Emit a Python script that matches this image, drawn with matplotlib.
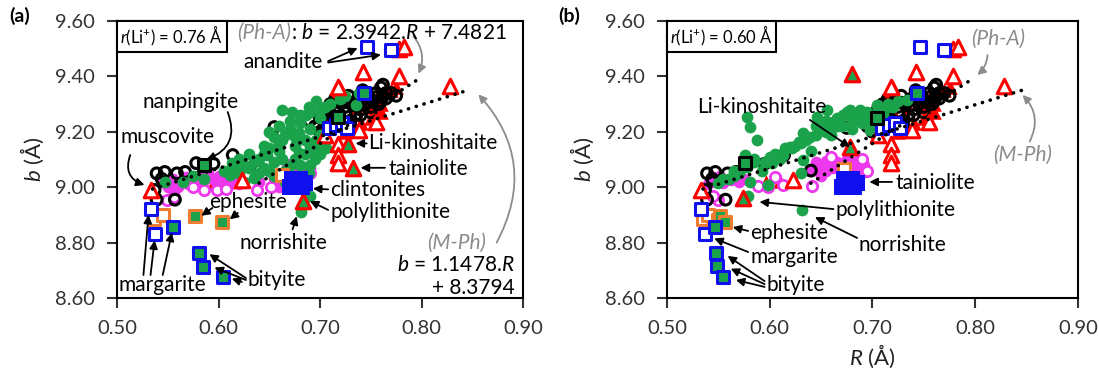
import numpy as np
import matplotlib.pyplot as plt
from matplotlib.offsetbox import AnchoredText

plt.rcParams['font.family'] = ['Lato', 'DejaVu Sans']
plt.rcParams['mathtext.fontset'] = 'custom'
plt.rcParams['mathtext.rm'] = 'Lato'
plt.rcParams['mathtext.it'] = 'Lato:italic'

# regression lines (from the equations printed on the chart)
phA_slope, phA_icpt = 2.3942, 7.4821
mph_slope, mph_icpt = 1.1478, 8.3794
phA_R = np.array([0.64, 0.795])
mph_R = np.array([0.535, 0.845])

# ---- series that sit at the same place in both panels ----
blk_R = [0.537, 0.539, 0.557, 0.539, 0.547, 0.559, 0.567, 0.544, 0.578, 0.595, 0.614, 0.640, 0.655, 0.675,
         0.690, 0.695, 0.700, 0.700, 0.705, 0.708, 0.710, 0.712, 0.715, 0.718,
         0.720, 0.722, 0.725, 0.728, 0.730, 0.732, 0.735, 0.738, 0.740, 0.742,
         0.745, 0.748, 0.750, 0.752, 0.755, 0.758, 0.760, 0.762, 0.762, 0.765, 0.770, 0.775,
         0.705, 0.715, 0.725, 0.735, 0.745, 0.755, 0.765, 0.730, 0.720, 0.740, 0.750, 0.760, 0.710, 0.728]
blk_b = [8.990, 8.955, 8.955, 9.050, 9.055, 9.050, 9.055, 9.030, 9.087, 9.085, 9.116, 9.060, 9.217, 9.214,
         9.240, 9.220, 9.250, 9.200, 9.280, 9.215, 9.300, 9.260, 9.320, 9.290,
         9.240, 9.310, 9.270, 9.330, 9.220, 9.300, 9.260, 9.320, 9.280, 9.350,
         9.300, 9.330, 9.270, 9.310, 9.340, 9.300, 9.360, 9.330, 9.370, 9.320, 9.340, 9.330,
         9.240, 9.270, 9.290, 9.310, 9.320, 9.325, 9.340, 9.240, 9.220, 9.260, 9.290, 9.310, 9.235, 9.305]

redfill_R = [0.700, 0.710, 0.720, 0.730, 0.735, 0.745, 0.750, 0.755, 0.760, 0.765, 0.770,
             0.775, 0.725, 0.740, 0.715, 0.720, 0.705, 0.750, 0.760, 0.596, 0.610]
redfill_b = [9.220, 9.250, 9.270, 9.250, 9.290, 9.310, 9.290, 9.320, 9.300, 9.345, 9.350,
             9.360, 9.200, 9.230, 9.340, 9.360, 9.190, 9.250, 9.270, 9.020, 9.022]

redopen_R = [0.533, 0.623, 0.718, 0.742, 0.778, 0.828, 0.778, 0.783, 0.718, 0.718, 0.718, 0.705, 0.738, 0.755]
redopen_b = [8.990, 9.026, 9.360, 9.416, 9.400, 9.365, 9.500, 9.505, 9.156, 9.116, 9.087, 9.190, 9.205, 9.235]

blueopen_R = [0.746, 0.770, 0.533, 0.537, 0.709, 0.716, 0.722, 0.727]
blueopen_b = [9.506, 9.495, 8.921, 8.830, 9.214, 9.225, 9.230, 9.214]

bluefill_R = [0.670, 0.676, 0.682, 0.672, 0.680, 0.685]
bluefill_b = [9.000, 9.020, 9.000, 9.030, 9.030, 9.015]

# ---- panel (a): r(Li+) = 0.76 A ----
a_grn_R = [0.547, 0.565, 0.575, 0.586, 0.613, 0.611, 0.635, 0.648, 0.681,
           0.663, 0.672, 0.689, 0.696, 0.738, 0.735, 0.663, 0.679, 0.696, 0.706,
           0.679, 0.663, 0.650, 0.640, 0.670, 0.689, 0.686, 0.716,
           0.620, 0.630, 0.645, 0.655, 0.660, 0.670, 0.680, 0.690, 0.700, 0.675,
           0.685, 0.660, 0.655, 0.670, 0.680, 0.695, 0.650, 0.640, 0.630, 0.620,
           0.665, 0.685, 0.690, 0.700, 0.705, 0.710, 0.625, 0.725,
           0.605, 0.615, 0.625, 0.635, 0.645, 0.650, 0.660, 0.665, 0.670, 0.675,
           0.685, 0.690, 0.695, 0.700, 0.680, 0.690, 0.700, 0.710, 0.720, 0.675,
           0.665, 0.655, 0.645, 0.690, 0.700]
a_grn_b = [9.020, 9.020, 9.040, 9.030, 9.087, 9.044, 9.033, 9.116, 8.910,
           9.280, 9.270, 9.290, 9.310, 9.340, 9.297, 9.170, 9.196, 9.170, 9.140,
           9.124, 9.100, 9.060, 9.050, 9.075, 9.050, 9.260, 9.235,
           9.100, 9.120, 9.150, 9.180, 9.220, 9.240, 9.230, 9.210, 9.190, 9.150,
           9.120, 9.130, 9.090, 9.040, 9.080, 9.100, 9.200, 9.100, 9.070, 9.050,
           9.020, 9.000, 8.970, 9.250, 9.290, 9.210, 9.020, 9.330,
           9.060, 9.070, 9.080, 9.090, 9.120, 9.140, 9.160, 9.190, 9.210, 9.180,
           9.170, 9.150, 9.130, 9.160, 9.260, 9.270, 9.280, 9.300, 9.320, 9.100,
           9.060, 9.040, 9.070, 9.080, 9.120]
a_magfill_R = [0.545, 0.555, 0.565, 0.575, 0.585, 0.595, 0.605, 0.615, 0.560, 0.570, 0.580, 0.590,
               0.600, 0.620, 0.640, 0.655, 0.665, 0.670, 0.660, 0.675, 0.680, 0.650, 0.550, 0.690,
               0.548, 0.558, 0.568, 0.578, 0.588, 0.598, 0.608, 0.555, 0.612]
a_magfill_b = [9.020, 9.030, 9.020, 9.030, 9.020, 9.030, 9.020, 9.030, 9.000, 9.010, 9.040, 9.050,
               9.040, 9.010, 9.020, 9.030, 9.050, 9.060, 9.000, 9.070, 9.060, 9.060, 9.000, 9.070,
               9.010, 9.010, 9.035, 9.020, 9.035, 9.010, 9.035, 8.990, 9.010]
a_magopen_R = [0.549, 0.556, 0.586, 0.598, 0.607, 0.638, 0.652, 0.668, 0.690, 0.575]
a_magopen_b = [8.954, 8.965, 8.990, 8.990, 8.995, 8.990, 9.000, 9.080, 9.050, 9.000]
a_redgrn_R = [0.728, 0.732, 0.683]
a_redgrn_b = [9.156, 9.070, 8.950]
a_bluegrn_R = [0.555, 0.581, 0.585, 0.604, 0.743]
a_bluegrn_b = [8.856, 8.763, 8.712, 8.676, 9.340]
a_orgopen_R = [0.536, 0.545, 0.663]
a_orgopen_b = [8.885, 8.900, 9.045]
a_orggrn_R = [0.577, 0.603]
a_orggrn_b = [8.896, 8.875]
a_blkgrn_R = [0.586, 0.718]
a_blkgrn_b = [9.080, 9.253]

# ---- panel (b): r(Li+) = 0.60 A ----
b_grn_R = [0.550, 0.576, 0.578, 0.581, 0.579, 0.592, 0.602, 0.613, 0.622, 0.628, 0.634, 0.598, 0.631,
           0.578, 0.581, 0.588, 0.600, 0.620, 0.632, 0.646, 0.656,
           0.688, 0.704, 0.720, 0.734, 0.698, 0.662, 0.649, 0.639, 0.630, 0.671, 0.678, 0.695, 0.632, 0.630,
           0.565, 0.570, 0.585, 0.610, 0.640, 0.655, 0.665, 0.680, 0.690, 0.710, 0.715, 0.560,
           0.555, 0.565, 0.575, 0.585, 0.595, 0.605, 0.615, 0.625, 0.635, 0.645, 0.655, 0.665,
           0.675, 0.685, 0.695, 0.705, 0.715, 0.725, 0.660, 0.670, 0.680, 0.690, 0.645, 0.655]
b_grn_b = [9.015, 9.116, 9.073, 9.020, 8.970, 9.060, 9.087, 9.116, 9.140, 9.163, 9.180, 9.008, 8.918,
           9.253, 9.217, 9.170, 9.110, 9.145, 9.196, 9.253, 9.280,
           9.280, 9.297, 9.290, 9.315, 9.207, 9.236, 9.207, 9.180, 9.160, 9.260, 9.280, 9.245, 9.098, 9.050,
           9.040, 9.050, 9.090, 9.100, 9.130, 9.200, 9.220, 9.240, 9.250, 9.260, 9.300, 9.030,
           9.030, 9.060, 9.080, 9.100, 9.090, 9.120, 9.140, 9.150, 9.170, 9.190, 9.210, 9.250,
           9.270, 9.260, 9.270, 9.270, 9.290, 9.310, 9.190, 9.220, 9.210, 9.230, 9.220, 9.240]
b_magfill_R = [0.540, 0.547, 0.555, 0.562, 0.570, 0.545, 0.552, 0.560, 0.568, 0.575,
               0.640, 0.648, 0.655, 0.662, 0.670, 0.678, 0.685, 0.692,
               0.645, 0.655, 0.665, 0.675, 0.685, 0.650, 0.670, 0.690]
b_magfill_b = [9.010, 9.020, 9.015, 9.025, 9.020, 9.035, 9.040, 9.030, 9.040, 9.030,
               9.060, 9.070, 9.060, 9.070, 9.065, 9.075, 9.070, 9.080,
               9.090, 9.095, 9.090, 9.100, 9.095, 9.040, 9.045, 9.050]
b_magopen_R = [0.550, 0.545, 0.589, 0.598, 0.613, 0.641, 0.605, 0.660, 0.690, 0.695]
b_magopen_b = [8.954, 8.970, 9.004, 9.000, 9.008, 9.004, 9.036, 9.110, 9.100, 9.060]
b_redgrn_R = [0.678, 0.574, 0.680]
b_redgrn_b = [9.145, 8.960, 9.410]
b_bluegrn_R = [0.547, 0.548, 0.549, 0.555, 0.743]
b_bluegrn_b = [8.856, 8.763, 8.715, 8.676, 9.340]
b_orgopen_R = [0.535, 0.545, 0.540, 0.550, 0.672]
b_orgopen_b = [8.885, 8.895, 8.900, 8.880, 9.065]
b_orggrn_R = [0.552, 0.556]
b_orggrn_b = [8.896, 8.875]
b_blkgrn_R = [0.576, 0.704]
b_blkgrn_b = [9.087, 9.250]

RED = '#ff0000'
GRN = '#1aa34a'
MAG = '#ee38ee'
BLU = '#1010ee'
ORG = '#ee7d31'


def scatter_panel(ax, grn, magf, mago, redg, blug, orgo, orgg, blkg):
    ax.scatter(redfill_R, redfill_b, marker='^', s=110, c=RED, lw=0, zorder=2)
    ax.scatter(*magf, marker='o', s=70, c=MAG, lw=0, zorder=2)
    ax.scatter(*mago, marker='o', s=55, facecolors='white', edgecolors=MAG, lw=2.0, zorder=2)
    ax.scatter(blk_R, blk_b, marker='o', s=60, facecolors='none', edgecolors='k', lw=2.2, zorder=3)
    ax.scatter(*grn, marker='o', s=72, c=GRN, lw=0, zorder=3)
    ax.scatter(redopen_R, redopen_b, marker='^', s=110, facecolors='white', edgecolors=RED, lw=2.2, zorder=4)
    ax.scatter(*redg, marker='^', s=110, facecolors=GRN, edgecolors=RED, lw=2.2, zorder=4)
    ax.scatter(*orgo, marker='s', s=65, facecolors='white', edgecolors=ORG, lw=2.2, zorder=4)
    ax.scatter(*orgg, marker='s', s=65, facecolors=GRN, edgecolors=ORG, lw=2.2, zorder=4)
    ax.scatter(blueopen_R, blueopen_b, marker='s', s=65, facecolors='white', edgecolors=BLU, lw=2.2, zorder=5)
    ax.scatter(*blug, marker='s', s=65, facecolors=GRN, edgecolors=BLU, lw=2.2, zorder=5)
    ax.scatter(bluefill_R, bluefill_b, marker='s', s=130, c=BLU, lw=0, zorder=5)
    ax.scatter(*blkg, marker='s', s=65, facecolors=GRN, edgecolors='k', lw=2.2, zorder=5)
    for R, m, c0 in [(phA_R, phA_slope, phA_icpt), (mph_R, mph_slope, mph_icpt)]:
        ax.plot(R, m * R + c0, color='k', lw=2.6, ls=(0, (0.05, 2.2)),
                dash_capstyle='round', zorder=6)


def arrow(ax, start, end, color='k', rad=0.0, lw=1.3):
    ax.annotate('', xy=end, xytext=start,
                arrowprops=dict(arrowstyle='-|>', color=color, lw=lw,
                                mutation_scale=12, shrinkA=0, shrinkB=0,
                                connectionstyle='arc3,rad=%g' % rad), zorder=7)


def style_axes(ax, li_text):
    ax.set_xlim(0.50, 0.90)
    ax.set_ylim(8.60, 9.60)
    ax.set_xticks([0.50, 0.60, 0.70, 0.80, 0.90])
    ax.set_xticklabels(['0.50', '0.60', '0.70', '0.80', '0.90'])
    ax.set_yticks([8.60, 8.80, 9.00, 9.20, 9.40, 9.60])
    ax.set_yticklabels(['8.60', '8.80', '9.00', '9.20', '9.40', '9.60'])
    ax.tick_params(direction='out', length=7, width=1.5, labelsize=14.5, colors='#333333')
    ax.tick_params(axis='x', pad=9)
    ax.tick_params(axis='y', pad=9)
    for sp in ax.spines.values():
        sp.set_linewidth(1.5)
    ax.set_ylabel(r'$\mathit{b}$ (Å)', fontsize=16, labelpad=6, color='#222222')
    at = AnchoredText(li_text, loc='upper left', borderpad=0, pad=0.2,
                      prop=dict(size=12))
    at.patch.set_linewidth(1.5)
    at.zorder = 8
    ax.add_artist(at)


fig = plt.figure(figsize=(10.99, 3.74), dpi=100)
axa = fig.add_axes([0.1065, 0.2032, 0.3694, 0.7407])
axb = fig.add_axes([0.6069, 0.2032, 0.3740, 0.7407])

scatter_panel(axa, (a_grn_R, a_grn_b), (a_magfill_R, a_magfill_b), (a_magopen_R, a_magopen_b),
              (a_redgrn_R, a_redgrn_b), (a_bluegrn_R, a_bluegrn_b), (a_orgopen_R, a_orgopen_b),
              (a_orggrn_R, a_orggrn_b), (a_blkgrn_R, a_blkgrn_b))
scatter_panel(axb, (b_grn_R, b_grn_b), (b_magfill_R, b_magfill_b), (b_magopen_R, b_magopen_b),
              (b_redgrn_R, b_redgrn_b), (b_bluegrn_R, b_bluegrn_b), (b_orgopen_R, b_orgopen_b),
              (b_orggrn_R, b_orggrn_b), (b_blkgrn_R, b_blkgrn_b))

style_axes(axa, r'$\mathit{r}$(Li$^{+}$) = 0.76 Å')
style_axes(axb, r'$\mathit{r}$(Li$^{+}$) = 0.60 Å')
axb.set_xlabel(r'$\mathit{R}$ (Å)', fontsize=16, labelpad=4, color='#222222')

fig.text(0.008, 0.94, '(a)', fontsize=14, fontweight='bold')
fig.text(0.508, 0.94, '(b)', fontsize=14, fontweight='bold')

GRAY = '#8c8c8c'
fs = 15

# ---- annotations panel (a) ----
ax = axa
t = ax.text(0.618, 9.557, '(Ph-A)', color=GRAY, fontsize=fs, style='italic', va='center', ha='left', zorder=8)
ax.annotate(r': $\mathit{b}$ = 2.3942.$\mathit{R}$ + 7.4821', xy=(1, 0.5), xycoords=t,
            va='center', ha='left', fontsize=fs, zorder=8)
arrow(ax, (0.792, 9.545), (0.797, 9.41), color=GRAY, rad=-0.3)
ax.text(0.835, 8.80, '(M-Ph)', color=GRAY, fontsize=fs, style='italic', ha='center', va='center')
ax.text(0.892, 8.719, r'$\mathit{b}$ = 1.1478.$\mathit{R}$', fontsize=fs, ha='right', va='center')
ax.text(0.892, 8.636, '+ 8.3794', fontsize=fs, ha='right', va='center')
arrow(ax, (0.874, 8.80), (0.856, 9.335), color=GRAY, rad=0.35)

ax.text(0.664, 9.452, 'anandite', fontsize=fs, ha='center', va='center')
arrow(ax, (0.708, 9.455), (0.737, 9.502))
arrow(ax, (0.708, 9.450), (0.760, 9.478))
ax.text(0.572, 9.308, 'nanpingite', fontsize=fs, ha='center', va='center')
arrow(ax, (0.609, 9.271), (0.588, 9.100), rad=-0.5)
ax.text(0.550, 9.181, 'muscovite', fontsize=fs, ha='center', va='center')
arrow(ax, (0.513, 9.116), (0.527, 9.008), rad=0.5)
ax.text(0.747, 9.160, 'Li-kinoshitaite', fontsize=fs, ha='left', va='center')
arrow(ax, (0.746, 9.158), (0.735, 9.158))
ax.text(0.767, 9.066, 'tainiolite', fontsize=fs, ha='left', va='center')
arrow(ax, (0.764, 9.070), (0.740, 9.070))
ax.text(0.710, 8.990, 'clintonites', fontsize=fs, ha='left', va='center')
arrow(ax, (0.708, 8.992), (0.693, 8.995))
ax.text(0.710, 8.910, 'polylithionite', fontsize=fs, ha='left', va='center')
arrow(ax, (0.708, 8.918), (0.690, 8.950))
ax.text(0.664, 8.800, 'norrishite', fontsize=fs, ha='center', va='center')
arrow(ax, (0.673, 8.848), (0.677, 8.895))
ax.text(0.629, 8.947, 'ephesite', fontsize=fs, ha='center', va='center')
arrow(ax, (0.594, 8.925), (0.583, 8.897))
arrow(ax, (0.619, 8.907), (0.611, 8.884))
ax.text(0.545, 8.647, 'margarite', fontsize=fs, ha='center', va='center')
arrow(ax, (0.526, 8.683), (0.531, 8.900))
arrow(ax, (0.533, 8.683), (0.537, 8.808))
arrow(ax, (0.545, 8.683), (0.554, 8.836))
ax.text(0.629, 8.665, 'bityite', fontsize=fs, ha='left', va='center')
arrow(ax, (0.627, 8.672), (0.591, 8.758))
arrow(ax, (0.627, 8.665), (0.596, 8.710))
arrow(ax, (0.623, 8.658), (0.613, 8.670))

# ---- annotations panel (b) ----
ax = axb
ax.text(0.822, 9.535, '(Ph-A)', color=GRAY, fontsize=fs, style='italic', ha='center', va='center')
arrow(ax, (0.812, 9.477), (0.802, 9.405), color=GRAY, rad=-0.2)
ax.text(0.846, 9.116, '(M-Ph)', color=GRAY, fontsize=fs, style='italic', ha='center', va='center')
arrow(ax, (0.853, 9.165), (0.846, 9.333), color=GRAY, rad=0.35)
ax.text(0.592, 9.290, 'Li-kinoshitaite', fontsize=fs, ha='center', va='center')
arrow(ax, (0.639, 9.243), (0.678, 9.145))
ax.text(0.722, 9.015, 'tainiolite', fontsize=fs, ha='left', va='center')
arrow(ax, (0.719, 9.019), (0.697, 9.019))
ax.text(0.664, 8.918, 'polylithionite', fontsize=fs, ha='left', va='center')
arrow(ax, (0.662, 8.921), (0.590, 8.947))
ax.text(0.686, 8.790, 'norrishite', fontsize=fs, ha='left', va='center')
arrow(ax, (0.685, 8.817), (0.644, 8.892))
ax.text(0.581, 8.835, 'ephesite', fontsize=fs, ha='left', va='center')
arrow(ax, (0.579, 8.842), (0.564, 8.856))
ax.text(0.581, 8.748, 'margarite', fontsize=fs, ha='left', va='center')
arrow(ax, (0.579, 8.766), (0.546, 8.815))
ax.text(0.597, 8.647, 'bityite', fontsize=fs, ha='left', va='center')
arrow(ax, (0.595, 8.661), (0.559, 8.752))
arrow(ax, (0.595, 8.650), (0.562, 8.706))
arrow(ax, (0.595, 8.640), (0.567, 8.665))

fig.savefig('out.png', dpi=100)
